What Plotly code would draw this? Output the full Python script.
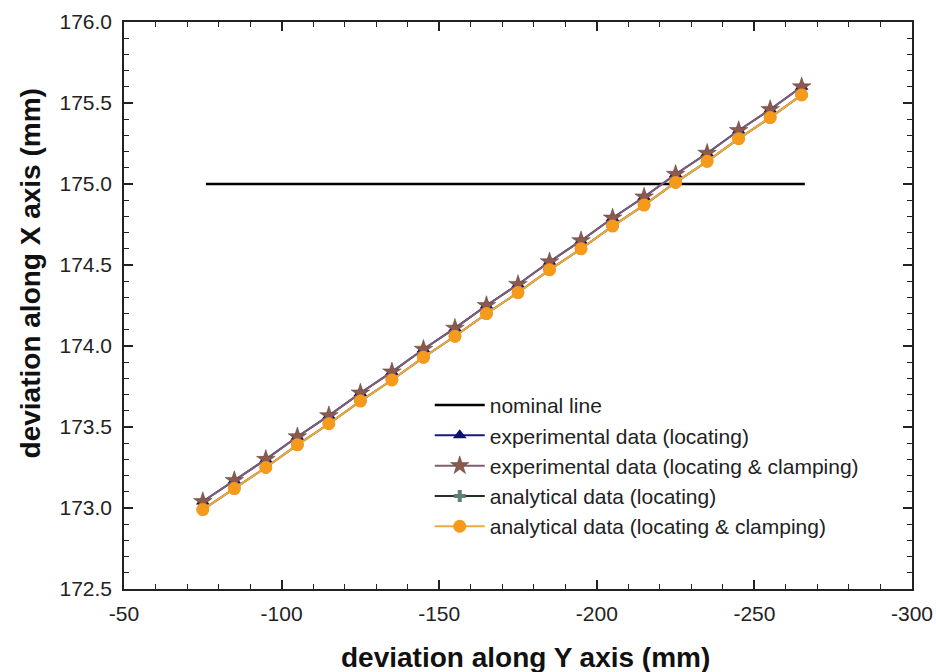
import plotly.graph_objects as go

# deviation along Y axis (mm) at each measuring point
y_dev = [-75, -85, -95, -105, -115, -125, -135, -145, -155, -165,
         -175, -185, -195, -205, -215, -225, -235, -245, -255, -265]

# deviation along X axis (mm)
exp_locating = [173.04, 173.17, 173.30, 173.44, 173.57, 173.71, 173.84, 173.98, 174.11, 174.25,
                174.38, 174.52, 174.65, 174.79, 174.92, 175.06, 175.19, 175.33, 175.46, 175.60]
exp_loc_clamp = [173.04, 173.17, 173.30, 173.44, 173.57, 173.71, 173.84, 173.98, 174.11, 174.25,
                 174.38, 174.52, 174.65, 174.79, 174.92, 175.06, 175.19, 175.33, 175.46, 175.60]
ana_locating = [172.99, 173.12, 173.25, 173.39, 173.52, 173.66, 173.79, 173.93, 174.06, 174.20,
                174.33, 174.47, 174.60, 174.74, 174.87, 175.01, 175.14, 175.28, 175.41, 175.55]
ana_loc_clamp = [172.99, 173.12, 173.25, 173.39, 173.52, 173.66, 173.79, 173.93, 174.06, 174.20,
                 174.33, 174.47, 174.60, 174.74, 174.87, 175.01, 175.14, 175.28, 175.41, 175.55]

nominal_x = [-76, -266]
nominal_y = [175.0, 175.0]

# axis tick positions and their labels (plain hyphen minus)
x_ticks = [-50, -100, -150, -200, -250, -300]
x_tick_text = ["-50", "-100", "-150", "-200", "-250", "-300"]
y_ticks = [172.5, 173.0, 173.5, 174.0, 174.5, 175.0, 175.5, 176.0]
y_tick_text = ["172.5", "173.0", "173.5", "174.0", "174.5", "175.0", "175.5", "176.0"]

fig = go.Figure()

fig.add_trace(go.Scatter(
    x=nominal_x, y=nominal_y, mode="lines", name="nominal line",
    line=dict(color="#000000", width=2.5)))

fig.add_trace(go.Scatter(
    x=y_dev, y=exp_locating, mode="lines+markers",
    name="experimental data (locating)",
    line=dict(color="#1a1a7a", width=2),
    marker=dict(symbol="triangle-up", size=12, color="#10106e")))

fig.add_trace(go.Scatter(
    x=y_dev, y=exp_loc_clamp, mode="lines+markers",
    name="experimental data (locating & clamping)",
    line=dict(color="#7e5f72", width=2),
    marker=dict(symbol="star", size=14, color="#8c5a4c",
                line=dict(color="#5e4240", width=0.5))))

fig.add_trace(go.Scatter(
    x=y_dev, y=ana_locating, mode="lines+markers",
    name="analytical data (locating)",
    line=dict(color="#243024", width=2),
    marker=dict(symbol="cross", size=10, color="#5f8070")))

fig.add_trace(go.Scatter(
    x=y_dev, y=ana_loc_clamp, mode="lines+markers",
    name="analytical data (locating & clamping)",
    line=dict(color="#eeaa3a", width=2),
    marker=dict(symbol="circle", size=13, color="#f59a1a")))

font_family = "Liberation Sans, Arial, sans-serif"
axis_font = dict(family=font_family, size=21, color="#222222")
title_font = dict(family=font_family, size=28, color="#111111")

fig.update_xaxes(
    range=[-50, -300], tickvals=x_ticks, ticktext=x_tick_text,
    ticks="inside", ticklen=9, tickwidth=1.5, tickcolor="#222",
    minor=dict(dtick=10, ticks="inside", ticklen=5, tickwidth=1, tickcolor="#222"),
    showline=True, linecolor="#222", linewidth=1.5, mirror="allticks",
    showgrid=False, zeroline=False, tickfont=axis_font, ticklabelstandoff=5,
    automargin=False)

fig.update_yaxes(
    range=[172.5, 176.0], tickvals=y_ticks, ticktext=y_tick_text,
    ticks="inside", ticklen=9, tickwidth=1.5, tickcolor="#222",
    minor=dict(dtick=0.1, tick0=172.5, ticks="inside", ticklen=5, tickwidth=1, tickcolor="#222"),
    showline=True, linecolor="#222", linewidth=1.5, mirror="allticks",
    showgrid=False, zeroline=False, tickfont=axis_font, ticklabelstandoff=6,
    automargin=False)

# axis titles, placed as annotations
fig.add_annotation(
    text="<b>deviation along Y axis (mm)</b>", font=title_font,
    xref="paper", yref="paper", x=0.51, y=-0.12,
    xanchor="center", yanchor="middle", showarrow=False)
fig.add_annotation(
    text="<b>deviation along X axis (mm)</b>", font=title_font,
    xref="paper", yref="paper", x=-0.119, y=0.557,
    xanchor="center", yanchor="middle", textangle=-90, showarrow=False)

fig.update_layout(
    width=936, height=672,
    margin=dict(l=124, r=24, t=22, b=83, autoexpand=False),
    paper_bgcolor="white", plot_bgcolor="white",
    legend=dict(
        x=0.388, y=0.36, xanchor="left", yanchor="top",
        bgcolor="rgba(255,255,255,0)", borderwidth=0,
        font=dict(family=font_family, size=21, color="#222222"),
        itemwidth=50, tracegroupgap=0),
    showlegend=True)

fig.write_html("out.html")
